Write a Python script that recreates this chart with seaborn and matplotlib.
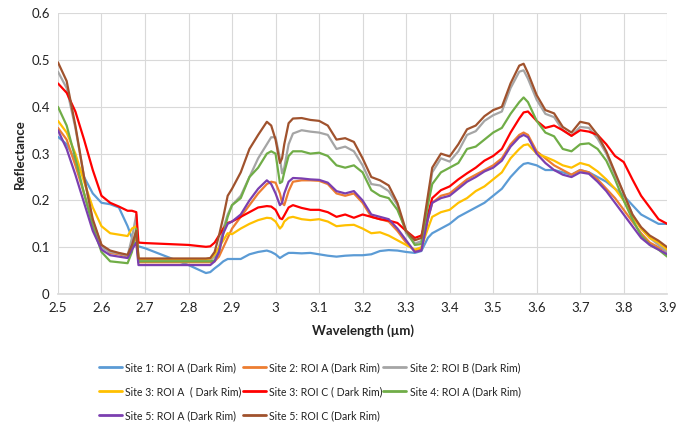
import numpy as np
import pandas as pd
import seaborn as sns
import matplotlib
matplotlib.use("Agg")
import matplotlib.pyplot as plt
from matplotlib.ticker import FuncFormatter
from matplotlib.lines import Line2D

wavelength = [2.50, 2.52, 2.54, 2.56, 2.58, 2.60, 2.62, 2.64, 2.66, 2.67,
              2.68, 2.685, 2.70, 2.75, 2.80, 2.84, 2.85, 2.86, 2.87, 2.88,
              2.89, 2.90, 2.92, 2.94, 2.96, 2.98, 2.99, 3.00, 3.01, 3.015,
              3.02, 3.03, 3.04, 3.06, 3.08, 3.10, 3.12, 3.14, 3.16, 3.18,
              3.20, 3.22, 3.24, 3.26, 3.28, 3.30, 3.32, 3.335, 3.35, 3.36,
              3.38, 3.40, 3.42, 3.44, 3.46, 3.48, 3.50, 3.52, 3.54, 3.56,
              3.57, 3.58, 3.60, 3.62, 3.64, 3.66, 3.68, 3.70, 3.72, 3.74,
              3.76, 3.78, 3.80, 3.82, 3.84, 3.86, 3.88, 3.90]

site1_roiA = [0.336, 0.32, 0.285, 0.25, 0.215, 0.195, 0.192, 0.185, 0.145, 0.12,
              0.105, 0.102, 0.098, 0.08, 0.062, 0.045, 0.047, 0.055, 0.062, 0.07,
              0.075, 0.075, 0.075, 0.085, 0.09, 0.093, 0.09, 0.085, 0.077, 0.08,
              0.083, 0.088, 0.088, 0.087, 0.088, 0.085, 0.082, 0.08, 0.082, 0.083,
              0.083, 0.085, 0.092, 0.094, 0.093, 0.09, 0.088, 0.092, 0.12, 0.13,
              0.14, 0.15, 0.165, 0.175, 0.185, 0.195, 0.21, 0.225, 0.25, 0.27,
              0.278, 0.28, 0.275, 0.265, 0.265, 0.26, 0.255, 0.265, 0.26, 0.25,
              0.24, 0.225, 0.21, 0.19, 0.17, 0.16, 0.15, 0.15]

site2_roiA = [0.355, 0.33, 0.275, 0.215, 0.155, 0.105, 0.088, 0.085, 0.08, 0.10,
              0.125, 0.068, 0.068, 0.068, 0.068, 0.068, 0.068, 0.07, 0.08, 0.10,
              0.12, 0.14, 0.165, 0.19, 0.215, 0.235, 0.24, 0.238, 0.215, 0.195,
              0.19, 0.22, 0.24, 0.243, 0.243, 0.242, 0.235, 0.215, 0.21, 0.215,
              0.195, 0.165, 0.16, 0.155, 0.135, 0.11, 0.092, 0.095, 0.16, 0.195,
              0.21, 0.215, 0.23, 0.245, 0.255, 0.265, 0.275, 0.29, 0.32, 0.34,
              0.345, 0.34, 0.305, 0.29, 0.275, 0.265, 0.255, 0.265, 0.26, 0.245,
              0.225, 0.205, 0.18, 0.155, 0.13, 0.11, 0.10, 0.09]

site2_roiB = [0.475, 0.44, 0.355, 0.25, 0.155, 0.10, 0.09, 0.087, 0.082, 0.12,
              0.17, 0.072, 0.072, 0.072, 0.072, 0.072, 0.073, 0.08, 0.10, 0.14,
              0.17, 0.19, 0.21, 0.25, 0.29, 0.32, 0.335, 0.335, 0.29, 0.258,
              0.27, 0.32, 0.343, 0.35, 0.347, 0.345, 0.34, 0.31, 0.315, 0.305,
              0.275, 0.235, 0.232, 0.22, 0.19, 0.13, 0.108, 0.113, 0.20, 0.26,
              0.29, 0.283, 0.305, 0.34, 0.348, 0.37, 0.382, 0.39, 0.44, 0.475,
              0.478, 0.46, 0.415, 0.385, 0.378, 0.35, 0.338, 0.357, 0.355, 0.332,
              0.30, 0.255, 0.215, 0.17, 0.14, 0.12, 0.105, 0.09]

site3_roiA = [0.37, 0.345, 0.30, 0.24, 0.185, 0.145, 0.13, 0.127, 0.124, 0.14,
              0.145, 0.075, 0.075, 0.075, 0.075, 0.075, 0.076, 0.085, 0.10, 0.115,
              0.13, 0.128, 0.14, 0.15, 0.158, 0.163, 0.162, 0.155, 0.14, 0.145,
              0.155, 0.163, 0.165, 0.16, 0.158, 0.16, 0.155, 0.145, 0.147, 0.148,
              0.14, 0.13, 0.132, 0.125, 0.115, 0.105, 0.095, 0.10, 0.14, 0.165,
              0.175, 0.18, 0.195, 0.205, 0.22, 0.23, 0.245, 0.26, 0.29, 0.31,
              0.318, 0.32, 0.30, 0.293, 0.285, 0.275, 0.27, 0.28, 0.275, 0.262,
              0.245, 0.225, 0.20, 0.165, 0.14, 0.12, 0.11, 0.095]

site3_roiC = [0.45, 0.43, 0.39, 0.33, 0.265, 0.21, 0.195, 0.187, 0.178, 0.178,
              0.175, 0.11, 0.109, 0.107, 0.105, 0.101, 0.102, 0.11, 0.125, 0.14,
              0.152, 0.155, 0.165, 0.175, 0.185, 0.188, 0.187, 0.18, 0.162, 0.16,
              0.168, 0.185, 0.19, 0.184, 0.18, 0.18, 0.175, 0.165, 0.17, 0.163,
              0.17, 0.165, 0.16, 0.157, 0.152, 0.135, 0.12, 0.125, 0.17, 0.205,
              0.222, 0.23, 0.245, 0.258, 0.27, 0.285, 0.295, 0.31, 0.345, 0.375,
              0.388, 0.39, 0.37, 0.355, 0.36, 0.35, 0.338, 0.35, 0.347, 0.34,
              0.32, 0.295, 0.282, 0.245, 0.21, 0.185, 0.16, 0.15]

site4_roiA = [0.40, 0.36, 0.29, 0.215, 0.145, 0.09, 0.07, 0.068, 0.066, 0.09,
              0.14, 0.07, 0.07, 0.07, 0.07, 0.07, 0.07, 0.072, 0.09, 0.13,
              0.165, 0.19, 0.205, 0.25, 0.27, 0.30, 0.305, 0.30, 0.237, 0.24,
              0.26, 0.295, 0.305, 0.305, 0.30, 0.302, 0.295, 0.275, 0.27, 0.275,
              0.26, 0.222, 0.21, 0.205, 0.18, 0.135, 0.105, 0.107, 0.19, 0.235,
              0.26, 0.27, 0.28, 0.31, 0.315, 0.33, 0.345, 0.355, 0.385, 0.41,
              0.42, 0.41, 0.37, 0.345, 0.337, 0.31, 0.305, 0.32, 0.322, 0.31,
              0.285, 0.245, 0.20, 0.16, 0.125, 0.105, 0.095, 0.08]

site5_roiA = [0.35, 0.31, 0.255, 0.195, 0.135, 0.095, 0.083, 0.08, 0.077, 0.095,
              0.11, 0.062, 0.062, 0.062, 0.062, 0.062, 0.062, 0.07, 0.09, 0.13,
              0.15, 0.155, 0.17, 0.20, 0.225, 0.243, 0.235, 0.215, 0.19, 0.195,
              0.215, 0.24, 0.248, 0.247, 0.245, 0.244, 0.238, 0.22, 0.215, 0.22,
              0.20, 0.17, 0.165, 0.16, 0.14, 0.115, 0.09, 0.093, 0.16, 0.195,
              0.205, 0.21, 0.225, 0.24, 0.25, 0.262, 0.27, 0.285, 0.315, 0.335,
              0.34, 0.335, 0.30, 0.28, 0.265, 0.255, 0.25, 0.26, 0.257, 0.24,
              0.22, 0.195, 0.17, 0.145, 0.12, 0.105, 0.095, 0.085]

site5_roiC = [0.495, 0.455, 0.36, 0.25, 0.16, 0.105, 0.093, 0.088, 0.084, 0.105,
              0.135, 0.076, 0.076, 0.076, 0.076, 0.076, 0.077, 0.09, 0.125, 0.165,
              0.21, 0.225, 0.26, 0.31, 0.34, 0.368, 0.36, 0.33, 0.28, 0.29,
              0.32, 0.365, 0.375, 0.376, 0.372, 0.37, 0.36, 0.33, 0.333, 0.325,
              0.29, 0.25, 0.243, 0.232, 0.195, 0.135, 0.115, 0.12, 0.21, 0.27,
              0.30, 0.294, 0.32, 0.352, 0.36, 0.38, 0.393, 0.40, 0.45, 0.488,
              0.492, 0.472, 0.425, 0.393, 0.386, 0.357, 0.345, 0.368, 0.364, 0.34,
              0.305, 0.26, 0.215, 0.17, 0.143, 0.125, 0.114, 0.10]

series_names = ["Site 1: ROI A (Dark Rim)", "Site 2: ROI A (Dark Rim)",
                "Site 2: ROI B (Dark Rim)", "Site 3: ROI A  ( Dark Rim)",
                "Site 3: ROI C ( Dark Rim)", "Site 4: ROI A (Dark Rim)",
                "Site 5: ROI A (Dark Rim)", "Site 5: ROI C (Dark Rim)"]
series_values = [site1_roiA, site2_roiA, site2_roiB, site3_roiA,
                 site3_roiC, site4_roiA, site5_roiA, site5_roiC]
colors = ["#5B9BD5", "#ED7D31", "#A5A5A5", "#FFC000",
          "#FF0000", "#70AD47", "#7B3FB0", "#A0522D"]

x_ticks = [2.5, 2.6, 2.7, 2.8, 2.9, 3.0, 3.1, 3.2, 3.3, 3.4, 3.5, 3.6, 3.7, 3.8, 3.9]
y_ticks = [0, 0.1, 0.2, 0.3, 0.4, 0.5, 0.6]

frames = []
for name, vals in zip(series_names, series_values):
    frames.append(pd.DataFrame({"Wavelength": wavelength, "Reflectance": vals, "Series": name}))
df = pd.concat(frames, ignore_index=True)

sns.set_theme(style="white")
plt.rcParams["font.family"] = ["Lato", "DejaVu Sans"]

fig = plt.figure(figsize=(6.9, 4.25), dpi=100)
ax = fig.add_axes([0.084, 0.308, 0.883, 0.661])

sns.lineplot(data=df, x="Wavelength", y="Reflectance", hue="Series",
             hue_order=series_names, palette=dict(zip(series_names, colors)),
             linewidth=1.6, sort=False, estimator=None, ax=ax, legend=False)

ax.set_xlim(2.5, 3.9)
ax.set_ylim(0, 0.6)
ax.set_xticks(x_ticks)
ax.set_yticks(y_ticks)
fmt = FuncFormatter(lambda v, p: ("%g" % round(v, 2)))
ax.xaxis.set_major_formatter(fmt)
ax.yaxis.set_major_formatter(fmt)
ax.grid(True, color="#D9D9D9", linewidth=0.8)
for s in ax.spines.values():
    s.set_visible(False)
ax.spines["bottom"].set_visible(True)
ax.spines["bottom"].set_color("#D9D9D9")
ax.tick_params(axis="both", length=0, labelsize=9.5, colors="#222222", pad=6)
ax.set_xlabel("Wavelength (µm)", fontsize=9.5, fontweight="bold", color="#222222", labelpad=7)
ax.set_ylabel("Reflectance", fontsize=9.5, fontweight="bold", color="#222222", labelpad=4)

handles = {n: Line2D([], [], color=c, linewidth=2) for n, c in zip(series_names, colors)}
order = [0, 3, 6, 1, 4, 7, 2, 5]
fs = 7.6
leg = fig.legend([handles[series_names[i]] for i in order],
                 [series_names[i] for i in order],
                 ncol=3, loc="upper left", bbox_to_anchor=(0.1435, 0.148),
                 frameon=False, fontsize=fs, handlelength=2.18, handletextpad=0.3,
                 columnspacing=0.1, labelspacing=1.22, borderaxespad=0, borderpad=0)
for t in leg.get_texts():
    t.set_color("#222222")

fig.savefig("out.png", dpi=100)
